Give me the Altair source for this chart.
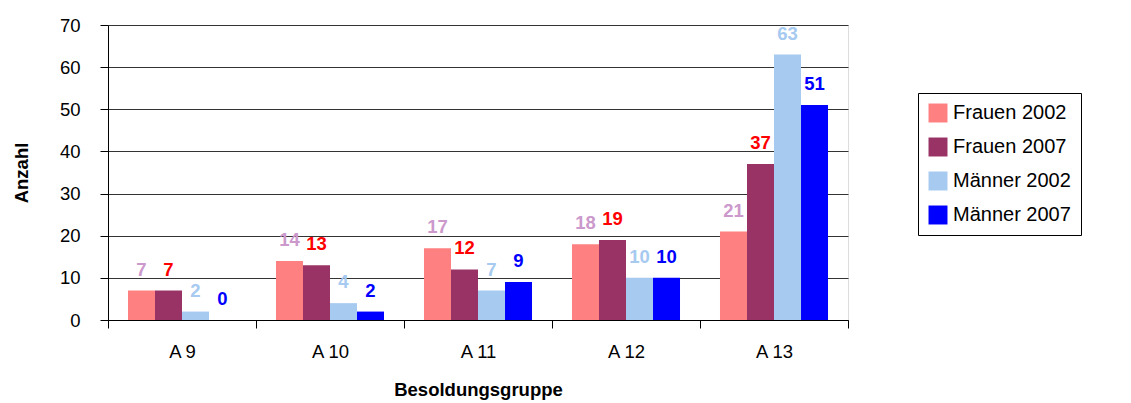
import altair as alt
import pandas as pd

categories = ["A 9", "A 10", "A 11", "A 12", "A 13"]
series = ["Frauen 2002", "Frauen 2007", "Männer 2002", "Männer 2007"]
frauen_2002 = [7, 14, 17, 18, 21]
frauen_2007 = [7, 13, 12, 19, 37]
maenner_2002 = [2, 4, 7, 10, 63]
maenner_2007 = [0, 2, 9, 10, 51]

bar_colors = ["#FF8080", "#993366", "#A6CAF0", "#0000FF"]
label_colors = ["#CC99CC", "#FF0000", "#A6CAF0", "#0000FF"]

rows = []
for s, vals in zip(series, [frauen_2002, frauen_2007, maenner_2002, maenner_2007]):
    for c, v in zip(categories, vals):
        rows.append({"Besoldungsgruppe": c, "Serie": s, "Anzahl": v})
df = pd.DataFrame(rows)

FONT = "Liberation Sans"
FS = 18.5

x = alt.X("Besoldungsgruppe:N", sort=categories,
          scale=alt.Scale(paddingInner=0, paddingOuter=0),
          axis=alt.Axis(title="Besoldungsgruppe", labelAngle=0, tickBand="extent",
                        labelFontSize=FS, labelPadding=14, tickSize=8,
                        titleFontSize=FS, titleFontWeight="bold", titlePadding=20,
                        labelColor="black", titleColor="black",
                        domainColor="black", tickColor="black", labelFont=FONT, titleFont=FONT))
xo = alt.XOffset("Serie:N", sort=series, scale=alt.Scale(paddingOuter=0.74, paddingInner=0))
y = alt.Y("Anzahl:Q", scale=alt.Scale(domain=[0, 70], nice=False),
          axis=alt.Axis(title="Anzahl", values=list(range(0, 71, 10)), tickSize=8,
                        labelFontSize=FS, labelPadding=20, titleFontSize=FS,
                        titleFontWeight="bold", titlePadding=28, grid=True,
                        gridColor="#333333", gridWidth=1, domainColor="black",
                        tickColor="black", labelColor="black", titleColor="black",
                        labelFont=FONT, titleFont=FONT))

bars = alt.Chart(df).mark_bar(size=27).encode(
    x=x, xOffset=xo, y=y,
    color=alt.Color("Serie:N", sort=series,
                    scale=alt.Scale(domain=series, range=bar_colors),
                    legend=alt.Legend(title=None, orient="none", legendX=810, legendY=68,
                                      symbolType="square", symbolSize=360,
                                      symbolStrokeWidth=0, labelFontSize=20, labelFont=FONT,
                                      labelColor="black", rowPadding=14,
                                      strokeColor="black", padding=10,
                                      fillColor="white", labelOffset=5))
)

labels = alt.Chart(df).mark_text(dy=-21, fontSize=FS, fontWeight="bold", font=FONT).encode(
    x=x, xOffset=xo, y=y,
    text="Anzahl:Q",
    color=alt.Color("Serie:N", sort=series,
                    scale=alt.Scale(domain=series, range=label_colors), legend=None)
)

chart = alt.layer(bars, labels).resolve_scale(color="independent").properties(
    width=740, height=295,
    autosize=alt.AutoSizeParams(type="none"),
    padding={"left": 100, "top": 17, "right": 275, "bottom": 80},
).configure_view(stroke="#808080", strokeWidth=2).configure(background="white")

chart.save("out.html", embed_options={"renderer": "svg", "actions": False})
